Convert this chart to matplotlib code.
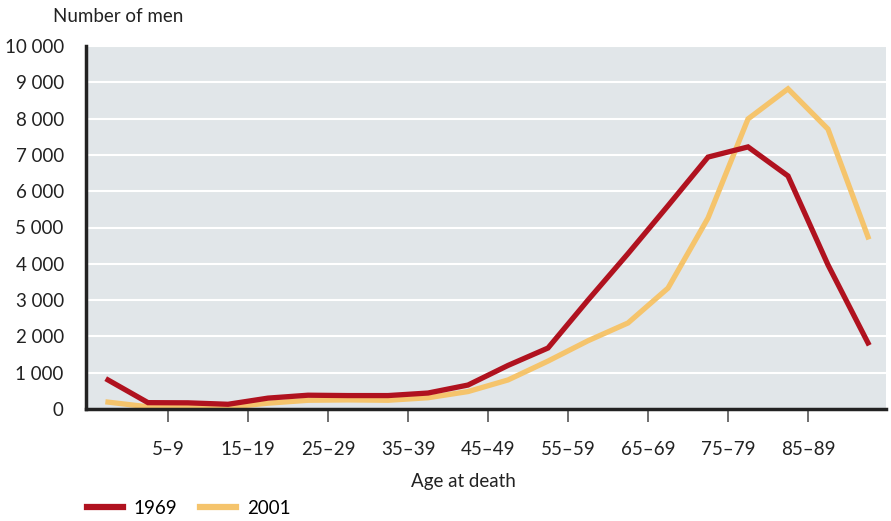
import matplotlib.pyplot as plt
import numpy as np

# valeurs (20 groupes d'âge)
deaths_1969 = [800, 175, 170, 130, 300, 380, 370, 370, 440, 660,
               1200, 1680, 3000, 4280, 5600, 6940, 7220, 6420, 3970, 1820]
deaths_2001 = [190, 60, 70, 50, 160, 240, 250, 240, 310, 480,
               800, 1320, 1880, 2370, 3330, 5260, 7990, 8820, 7710, 4740]
tick_labels = ["5–9", "15–19", "25–29", "35–39", "45–49",
               "55–59", "65–69", "75–79", "85–89"]
y_ticks = list(range(0, 10001, 1000))

red = "#B0121F"
yellow = "#F5C46C"

plt.rcParams['font.family'] = ['Lato', 'DejaVu Sans']

fig = plt.figure(figsize=(8.91, 5.21), dpi=100)
ax = fig.add_axes([86 / 891, 1 - 409 / 521, 800 / 891, 363 / 521])
ax.set_facecolor("#E1E6E9")

x = np.arange(len(deaths_1969))
ax.plot(x, deaths_1969, color=red, lw=3.8, solid_joinstyle='miter', zorder=3)
ax.plot(x, deaths_2001, color=yellow, lw=3.8, solid_joinstyle='miter', zorder=2)

ax.set_xlim(-0.55, 19.45)
ax.set_ylim(0, 10000)

# grille horizontale blanche
ax.set_yticks(y_ticks)
ax.set_yticklabels([f"{v:,}".replace(",", " ") for v in y_ticks])
ax.yaxis.grid(True, color="white", lw=1.5)
ax.set_axisbelow(True)

ax.set_xticks(np.arange(1.5, 19, 2))
ax.set_xticklabels(tick_labels)

ax.tick_params(axis='y', length=0, pad=16, labelsize=13.5, labelcolor="#222222")
ax.tick_params(axis='x', length=9, width=1.2, color="#555555", pad=14,
               labelsize=13.5, labelcolor="#222222")

for side in ["top", "right"]:
    ax.spines[side].set_visible(False)
for side in ["left", "bottom"]:
    ax.spines[side].set_color("#222222")
    ax.spines[side].set_linewidth(2.5)

fig.text(53 / 891, 1 - 16 / 521, "Number of men", fontsize=13.5,
         color="#222222", va="center", ha="left")
fig.text(463 / 891, 1 - 481 / 521, "Age at death", fontsize=13.5,
         color="#222222", va="center", ha="center")

# légende en bas à gauche
ax.legend([plt.Line2D([], [], color=red, lw=4.5),
           plt.Line2D([], [], color=yellow, lw=4.5)],
          ["1969", "2001"], loc="center left", ncol=2, frameon=False,
          bbox_to_anchor=(70 / 891, 1 - 508 / 521), bbox_transform=fig.transFigure,
          fontsize=13.5, handlelength=1.9, columnspacing=1.2, handletextpad=0.6)

fig.savefig("out.png", dpi=100)
